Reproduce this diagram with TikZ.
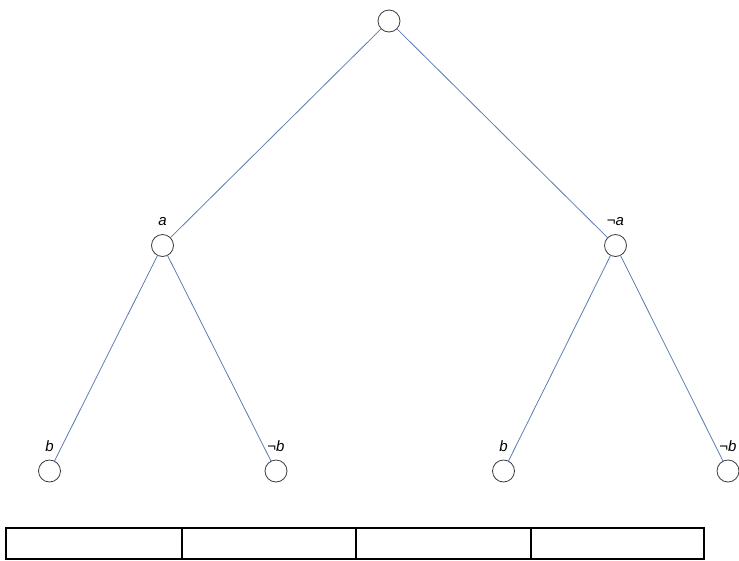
\documentclass[tikz,border=0pt]{standalone}
\usepackage{fontspec}
\setmainfont{Liberation Sans}
\usepackage{tikz}
\usetikzlibrary{positioning}

\definecolor{edgeblue}{RGB}{92,124,178}
\definecolor{ringgray}{RGB}{60,60,60}

\begin{document}
\begin{tikzpicture}[x=1pt, y=-1pt,
    vertex/.style={circle, draw=ringgray, line width=0.8pt, fill=white, minimum size=22pt, inner sep=0pt},
    lbl/.style={font=\fontsize{15}{17}\selectfont\itshape, inner sep=1pt},
    branch/.style={draw=edgeblue, line width=0.8pt},
    cell/.style={draw=black, line width=2pt}]
  \useasboundingbox (0,0) rectangle (739,560);
  % tree
  \node[vertex] (root) at (389,21) {};
  \node[vertex, label={[lbl, label distance=7pt]above:a}] (a) at (162.5,245.5) {}; % left
  \node[vertex, label={[lbl, label distance=7pt]above:¬a}] (na) at (615.5,245.5) {}; % right
  \node[vertex, label={[lbl, label distance=7pt]above:b}] (ab) at (49.5,471) {};
  \node[vertex, label={[lbl, label distance=7pt]above:¬b}] (anb) at (276,471) {};
  \node[vertex, label={[lbl, label distance=7pt]above:b}] (nab) at (503.5,471) {};
  \node[vertex, label={[lbl, label distance=7pt]above:¬b}] (nanb) at (728,471) {};
  \draw[branch] (root) -- (a);
  \draw[branch] (root) -- (na);
  \draw[branch] (a) -- (ab);
  \draw[branch] (a) -- (anb);
  \draw[branch] (na) -- (nab);
  \draw[branch] (na) -- (nanb);
  % table
  \draw[cell] (5.5,528) rectangle (704,559);
  \draw[cell] (181.5,528) -- (181.5,559);
  \draw[cell] (356,528) -- (356,559);
  \draw[cell] (530.5,528) -- (530.5,559);
\end{tikzpicture}
\end{document}
